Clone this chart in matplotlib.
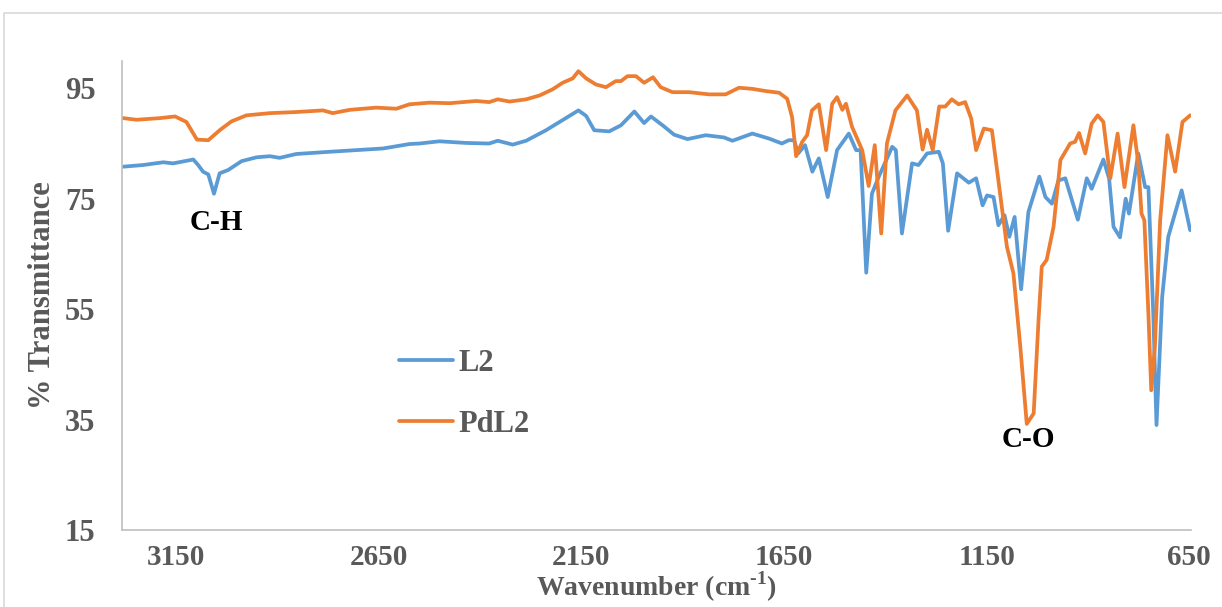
import matplotlib
matplotlib.use('Agg')
import matplotlib.pyplot as plt
from matplotlib.patches import Rectangle

plt.rcParams['font.family'] = ['Liberation Serif', 'DejaVu Serif']
plt.rcParams['font.weight'] = 'bold'
plt.rcParams['axes.labelweight'] = 'bold'
plt.rcParams['mathtext.fontset'] = 'custom'
plt.rcParams['mathtext.rm'] = 'Liberation Serif:bold'
plt.rcParams['mathtext.bf'] = 'Liberation Serif:bold'

# values (wavenumber, % transmittance)
pdl2_wn = [3280, 3247, 3189, 3152, 3124, 3098, 3070, 3042, 3013, 2976, 2918, 2853, 2787, 2763,
           2721, 2656, 2606, 2574, 2524, 2475, 2409, 2377, 2356, 2327, 2286, 2253, 2221, 2196,
           2171, 2157, 2138, 2114, 2089, 2065, 2052, 2036, 2015, 1995, 1973, 1954, 1925, 1884,
           1835, 1794, 1761, 1728, 1695, 1662, 1642, 1630, 1620, 1605, 1593, 1581, 1564, 1546,
           1531, 1519, 1506, 1497, 1482, 1457, 1441, 1426, 1410, 1396, 1375, 1346, 1330, 1322,
           1308, 1297, 1283, 1267, 1252, 1236, 1219, 1203, 1188, 1176, 1157, 1137, 1121, 1100,
           1084, 1067, 1051, 1034, 1022, 1014, 1002, 985, 968, 944, 932, 922, 907, 891, 876,
           862, 845, 827, 810, 788, 776, 768, 761, 751, 744, 735, 722, 704, 685, 667, 648]
pdl2_t = [89.6, 89.3, 89.6, 89.9, 88.9, 85.7, 85.6, 87.4, 89.0, 90.1, 90.5, 90.7, 91.0, 90.5,
          91.1, 91.5, 91.3, 92.1, 92.4, 92.3, 92.7, 92.5, 93.0, 92.6, 93.0, 93.7, 94.8, 96.0,
          96.8, 98.1, 96.8, 95.7, 95.2, 96.3, 96.3, 97.2, 97.2, 96.0, 97.0, 95.2, 94.3, 94.3,
          93.9, 93.9, 95.1, 94.9, 94.5, 94.2, 93.1, 89.8, 82.7, 85.3, 86.5, 91.0, 92.1, 83.8,
          92.2, 93.4, 91.1, 92.2, 88.0, 83.8, 77.3, 84.7, 68.7, 85.0, 91.0, 93.7, 91.9, 91.0,
          83.9, 87.5, 83.8, 91.7, 91.7, 93.0, 92.1, 92.5, 89.5, 83.8, 87.7, 87.4, 78.3, 66.3,
          61.5, 48.2, 34.2, 36.1, 53.0, 62.7, 63.9, 69.9, 82.0, 85.0, 85.3, 86.9, 83.2, 88.6, 90.1,
          88.9, 78.7, 86.8, 77.1, 88.3, 81.4, 72.3, 71.1, 54.2, 40.3, 48.2, 71.1, 86.5, 79.9, 88.9, 90.1]

l2_wn = [3280, 3231, 3181, 3157, 3107, 3095, 3083, 3070, 3056, 3042, 3021, 2988, 2951, 2918,
         2894, 2853, 2771, 2639, 2574, 2549, 2500, 2434, 2377, 2356, 2319, 2286, 2237, 2188,
         2157, 2138, 2118, 2081, 2052, 2019, 1995, 1978, 1946, 1921, 1888, 1843, 1798, 1777,
         1728, 1687, 1655, 1638, 1625, 1615, 1598, 1580, 1564, 1542, 1519, 1490, 1472, 1461,
         1447, 1433, 1416, 1383, 1374, 1359, 1334, 1318, 1297, 1268, 1258, 1245, 1223, 1194,
         1176, 1160, 1149, 1133, 1121, 1106, 1094, 1081, 1065, 1047, 1020, 1005, 989, 973, 956,
         925, 903, 891, 862, 848, 837, 821, 807, 799, 776, 759, 751, 739, 731, 717, 702, 669, 648]
l2_t = [80.8, 81.1, 81.6, 81.4, 82.1, 81.1, 79.9, 79.4, 75.9, 79.6, 80.2, 81.8, 82.5, 82.7,
        82.4, 83.1, 83.5, 84.1, 84.9, 85.0, 85.4, 85.1, 85.0, 85.5, 84.8, 85.5, 87.4, 89.6,
        91.0, 90.0, 87.4, 87.2, 88.3, 90.8, 88.7, 89.9, 88.1, 86.6, 85.8, 86.5, 86.1, 85.5,
        86.8, 85.9, 85.0, 85.6, 85.6, 83.2, 84.7, 79.9, 82.3, 75.3, 83.8, 86.8, 83.8, 83.8,
        61.6, 75.9, 79.0, 84.4, 83.8, 68.7, 81.4, 81.1, 83.2, 83.5, 81.4, 69.2, 79.6, 77.9,
        78.7, 73.8, 75.6, 75.3, 70.2, 72.0, 68.1, 71.7, 58.6, 72.6, 79.0, 75.3, 74.1, 78.3, 78.7,
        71.2, 78.7, 76.8, 82.1, 78.7, 69.9, 68.0, 75.0, 72.3, 83.2, 77.1, 77.1, 54.2, 34.0, 57.2, 68.1, 76.5, 69.3]

xticks = [3150, 2650, 2150, 1650, 1150, 650]
yticks = [15, 35, 55, 75, 95]

grey = '#595959'
fig = plt.figure(figsize=(12.22, 6.07), dpi=100)
ax = fig.add_axes([0.0998, 0.127, 0.8748, 0.773])

ax.plot(l2_wn, l2_t, color='#5B9BD5', lw=2.7, label='L2',
        solid_joinstyle='round', solid_capstyle='round')
ax.plot(pdl2_wn, pdl2_t, color='#ED7D31', lw=2.7, label='PdL2',
        solid_joinstyle='round', solid_capstyle='round')

ax.set_xlim(3283, 646)
ax.set_ylim(15, 100)
ax.set_xticks(xticks)
ax.set_yticks(yticks)
ax.tick_params(length=0, labelsize=22, colors=grey)
ax.tick_params(axis='x', pad=10, labelsize=21)
ax.tick_params(axis='y', pad=19)

for s in ['top', 'right']:
    ax.spines[s].set_visible(False)
ax.spines['left'].set_color('#bfbfbf')
ax.spines['bottom'].set_color('#bfbfbf')
ax.spines['left'].set_linewidth(1.2)
ax.spines['bottom'].set_linewidth(1.2)

ax.set_xlabel(r'Wavenumber (cm$^{\text{-1}}$)', fontsize=20, color=grey, labelpad=-1)
ax.set_ylabel('% Transmittance', fontsize=22, color=grey, labelpad=6)

ax.text(3049, 70.7, 'C-H', fontsize=21, color='black', ha='center', va='center')
ax.text(1047, 31.3, 'C-O', fontsize=21, color='black', ha='center', va='center')

leg = ax.legend(loc='upper left', bbox_to_anchor=(0.245, 0.418), frameon=False, fontsize=22,
                handlelength=1.75, handletextpad=0.2, labelspacing=1.05, borderpad=0)
for t in leg.get_texts():
    t.set_color(grey)

# outer chart border
fig.add_artist(Rectangle((4 / 1222, -0.1), 1.2, 0.1 + 1 - 13 / 607, transform=fig.transFigure,
                         fill=False, edgecolor='#d9d9d9', lw=1.2))

fig.savefig('out.png', dpi=100)
